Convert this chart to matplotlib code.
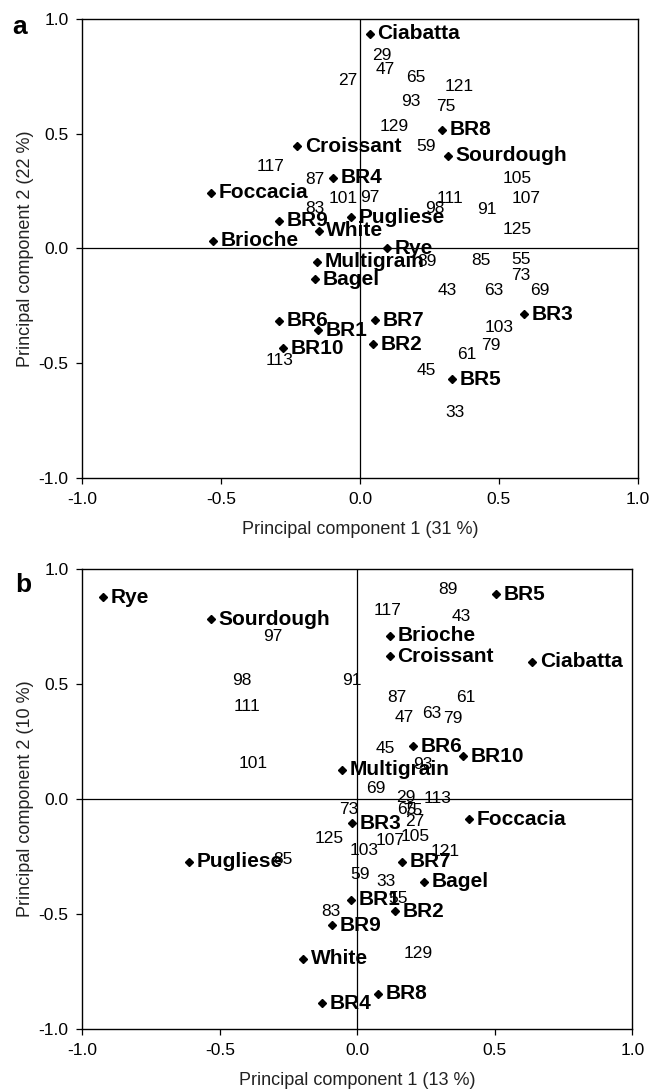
import matplotlib
matplotlib.use("Agg")
import matplotlib.pyplot as plt

plt.rcParams['font.family'] = ['Liberation Sans', 'DejaVu Sans']

# panel a - breads (scores)
a_breads = ["Ciabatta", "BR8", "Croissant", "Sourdough", "BR4", "Foccacia", "Pugliese",
            "BR9", "White", "Brioche", "Rye", "Multigrain", "Bagel", "BR3", "BR6", "BR7",
            "BR1", "BR2", "BR10", "BR5"]
a_bread_x = [0.036, 0.294, -0.227, 0.317, -0.096, -0.536, -0.033, -0.291, -0.149, -0.529,
             0.099, -0.156, -0.161, 0.592, -0.291, 0.054, -0.152, 0.047, -0.276, 0.332]
a_bread_y = [0.935, 0.518, 0.446, 0.403, 0.308, 0.242, 0.135, 0.120, 0.077, 0.033,
             0.000, -0.058, -0.134, -0.287, -0.315, -0.312, -0.356, -0.417, -0.435, -0.570]

# panel a - descriptors (loadings)
a_desc = ["29", "47", "27", "65", "121", "93", "75", "129", "59", "117", "87", "105",
          "101", "97", "111", "107", "83", "98", "91", "125", "89", "85", "55", "73",
          "43", "63", "69", "103", "79", "61", "113", "45", "33"]
a_desc_x = [0.077, 0.092, -0.044, 0.200, 0.359, 0.182, 0.309, 0.122, 0.239, -0.324,
            -0.164, 0.565, -0.062, 0.036, 0.324, 0.598, -0.161, 0.269, 0.456, 0.565,
            0.242, 0.437, 0.580, 0.580, 0.314, 0.482, 0.647, 0.502, 0.471, 0.384,
            -0.291, 0.239, 0.344]
a_desc_y = [0.842, 0.779, 0.733, 0.743, 0.704, 0.639, 0.620, 0.533, 0.443, 0.356,
            0.302, 0.305, 0.218, 0.222, 0.218, 0.218, 0.174, 0.174, 0.170, 0.083,
            -0.058, -0.051, -0.048, -0.116, -0.181, -0.184, -0.181, -0.345, -0.421,
            -0.460, -0.486, -0.530, -0.716]

# panel b - breads
b_breads = ["Rye", "BR5", "Sourdough", "Brioche", "Croissant", "Ciabatta", "BR6", "BR10",
            "Multigrain", "BR3", "Foccacia", "Pugliese", "BR7", "Bagel", "BR1", "BR2",
            "BR9", "White", "BR8", "BR4"]
b_bread_x = [-0.924, 0.503, -0.532, 0.120, 0.117, 0.636, 0.203, 0.385, -0.058, -0.020,
             0.405, -0.614, 0.162, 0.242, -0.023, 0.136, -0.091, -0.197, 0.076, -0.129]
b_bread_y = [0.876, 0.890, 0.782, 0.709, 0.621, 0.596, 0.230, 0.185, 0.128, -0.105,
             -0.087, -0.272, -0.272, -0.360, -0.439, -0.487, -0.548, -0.695, -0.847, -0.889]

# panel b - descriptors
b_desc = ["89", "117", "43", "97", "98", "91", "87", "61", "111", "47", "63", "79", "45",
          "101", "93", "69", "29", "113", "73", "65", "75", "27", "125", "105", "107",
          "103", "121", "85", "59", "33", "55", "83", "129"]
b_desc_x = [0.329, 0.109, 0.379, -0.308, -0.421, -0.020, 0.142, 0.394, -0.402, 0.170,
            0.271, 0.347, 0.102, -0.380, 0.238, 0.068, 0.177, 0.291, -0.030, 0.180,
            0.200, 0.208, -0.103, 0.211, 0.120, 0.023, 0.318, -0.270, 0.011, 0.105,
            0.147, -0.098, 0.220]
b_desc_y = [0.911, 0.821, 0.795, 0.705, 0.516, 0.516, 0.440, 0.440, 0.404, 0.356,
            0.371, 0.352, 0.218, 0.153, 0.150, 0.044, 0.007, 0.000, -0.044, -0.044,
            -0.052, -0.097, -0.170, -0.163, -0.182, -0.225, -0.228, -0.265, -0.330,
            -0.359, -0.432, -0.491, -0.672]

ticks = [-1.0, -0.5, 0.0, 0.5, 1.0]
tick_labels = ["-1.0", "-0.5", "0.0", "0.5", "1.0"]


def draw_panel(ax, names, bx, by, desc, dx, dy, xlab, ylab):
    ax.axhline(0, color="black", lw=0.9, zorder=1)
    ax.axvline(0, color="black", lw=0.9, zorder=1)
    ax.plot(bx, by, linestyle="none", marker="D", ms=4.4, color="black", zorder=3)
    for name, x, y in zip(names, bx, by):
        ax.annotate(name, (x, y), xytext=(5.5, 0), textcoords="offset points",
                    ha="left", va="center", fontsize=15, fontweight="bold", zorder=4)
    for lab, x, y in zip(desc, dx, dy):
        ax.text(x, y, lab, ha="center", va="center", fontsize=12.5, zorder=2)
    ax.set_xlim(-1, 1)
    ax.set_ylim(-1, 1)
    ax.set_xticks(ticks)
    ax.set_xticklabels(tick_labels)
    ax.set_yticks(ticks)
    ax.set_yticklabels(tick_labels)
    ax.tick_params(direction="out", length=4, width=0.9, labelsize=12.5, pad=6)
    for sp in ax.spines.values():
        sp.set_linewidth(1.0)
    ax.set_xlabel(xlab, fontsize=13, color="#222222", labelpad=10)
    ax.set_ylabel(ylab, fontsize=13, color="#222222", labelpad=3)


fig = plt.figure(figsize=(6.54, 10.91), dpi=100)
ax1 = fig.add_axes([0.1261, 0.5619, 0.8487, 0.4207])
ax2 = fig.add_axes([0.1261, 0.0568, 0.8410, 0.4217])

draw_panel(ax1, a_breads, a_bread_x, a_bread_y, a_desc, a_desc_x, a_desc_y,
           "Principal component 1 (31 %)", "Principal component 2 (22 %)")
draw_panel(ax2, b_breads, b_bread_x, b_bread_y, b_desc, b_desc_x, b_desc_y,
           "Principal component 1 (13 %)", "Principal component 2 (10 %)")

fig.text(20 / 654, 1 - 27 / 1091, "a", fontsize=19, fontweight="bold", ha="center", va="center")
fig.text(23 / 654, 1 - 585 / 1091, "b", fontsize=19, fontweight="bold", ha="center", va="center")

fig.savefig("out.png", dpi=100)
